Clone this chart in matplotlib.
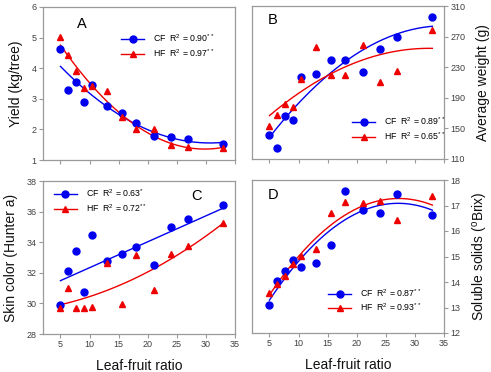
import numpy as np
import matplotlib
matplotlib.use("Agg")
import matplotlib.pyplot as plt
from matplotlib.legend_handler import HandlerLine2D

plt.rcParams['font.family'] = ['Liberation Sans', 'DejaVu Sans']
plt.rcParams['mathtext.fontset'] = 'custom'
plt.rcParams['mathtext.rm'] = 'Liberation Sans'
plt.rcParams['mathtext.it'] = 'Liberation Sans:italic'

# ---- data ----
leaf_fruit = [5, 6.3, 7.7, 9, 10.4, 13, 15.5, 18, 21, 24, 27, 33]

yield_cf = [4.62, 3.29, 3.55, 2.88, 3.45, 2.77, 2.53, 2.20, 1.79, 1.76, 1.70, 1.52]
yield_hf = [5.02, 4.43, 3.90, 3.34, 3.42, 3.27, 2.40, 2.00, 2.00, 1.48, 1.42, 1.38]

weight_cf = [141, 125, 166, 161, 217, 221, 240, 239, 224, 254, 270, 295]
weight_hf = [153, 168, 182, 178, 215, 257, 220, 220, 259, 211, 225, 279]

color_cf = [29.91, 32.15, 33.43, 30.76, 34.50, 32.76, 33.20, 33.67, 32.48, 35.02, 35.50, 36.46]
color_hf = [29.70, 31.02, 29.72, 29.70, 29.76, 32.63, 29.98, 33.17, 30.85, 33.24, 33.72, 35.24]

brix_cf = [13.09, 14.03, 14.44, 14.88, 14.57, 14.73, 15.44, 17.56, 16.82, 16.69, 17.47, 16.63]
brix_hf = [13.58, 13.94, 14.23, 14.70, 15.01, 15.30, 16.69, 17.13, 17.10, 17.16, 16.45, 17.37]

labels_a = ['CF  R$^2$ = 0.90$^{**}$', 'HF  R$^2$ = 0.97$^{**}$']
labels_b = ['CF  R$^2$ = 0.89$^{**}$', 'HF  R$^2$ = 0.65$^{**}$']
labels_c = ['CF  R$^2$ = 0.63$^{*}$', 'HF  R$^2$ = 0.72$^{**}$']
labels_d = ['CF  R$^2$ = 0.87$^{**}$', 'HF  R$^2$ = 0.93$^{**}$']

BLUE = '#0000ee'
RED = '#ee0000'
SPINE = '#9a9a9a'
TICKC = '#404040'


class RightMarker(HandlerLine2D):
    def get_xdata(self, legend, xdescent, ydescent, width, height, fontsize):
        xdata, _ = super().get_xdata(legend, xdescent, ydescent, width, height, fontsize)
        return xdata, np.array([width - xdescent])


fig = plt.figure(figsize=(4.91, 3.72), dpi=100)
W, H = 491, 372


def make_ax(l, t, r, b):
    return fig.add_axes([l / W, 1 - b / H, (r - l) / W, (b - t) / H])


axA = make_ax(43, 7, 235, 160)
axB = make_ax(252, 6, 444, 159)
axC = make_ax(43, 181, 235, 334)
axD = make_ax(252, 180, 444, 333)

x = np.array(leaf_fruit, dtype=float)
xs = np.linspace(5, 33, 200)


def panel(ax, ycf, yhf, labels, ylim, yticks, letter, letter_pos, legend_anchor,
          right=False, xlabels=False, deg_cf=2, deg_hf=2):
    pcf = np.polyfit(x, ycf, deg_cf)
    phf = np.polyfit(x, yhf, deg_hf)
    ax.plot(xs, np.polyval(pcf, xs), color=BLUE, lw=1.0)
    ax.plot(xs, np.polyval(phf, xs), color=RED, lw=1.0)
    ax.plot(x, ycf, 'o', color=BLUE, ms=5, mec=BLUE, ls='none')
    ax.plot(x, yhf, '^', color=RED, ms=5, mec=RED, ls='none')
    hcf, = ax.plot([], [], color=BLUE, lw=1.0, marker='o', ms=5)
    hhf, = ax.plot([], [], color=RED, lw=1.0, marker='^', ms=5)
    ax.set_xlim(2, 35)
    ax.set_ylim(*ylim)
    ax.set_xticks([5, 10, 15, 20, 25, 30, 35])
    ax.set_yticks(yticks)
    for s in ax.spines.values():
        s.set_color(SPINE)
        s.set_linewidth(0.9)
    ax.tick_params(direction='out', length=3, width=0.8, color=SPINE,
                   labelsize=6.5, labelcolor=TICKC, pad=1.5)
    if not xlabels:
        ax.tick_params(axis='x', labelbottom=False)
    if right:
        ax.yaxis.tick_right()
        ax.yaxis.set_label_position('right')
    ax.text(letter_pos[0], letter_pos[1], letter, transform=ax.transAxes,
            fontsize=10.5, ha='left', va='center')
    ax.legend([hcf, hhf], labels, loc='upper left', bbox_to_anchor=legend_anchor,
              frameon=False, fontsize=6.3, numpoints=1, handlelength=2.6,
              handletextpad=1.0, labelspacing=0.35, borderaxespad=0.2,
              handler_map={hcf: RightMarker(), hhf: RightMarker()})
    return ax


panel(axA, yield_cf, yield_hf, labels_a, (1, 6), [1, 2, 3, 4, 5, 6], 'A', (0.175, 0.89),
      (0.38, 0.87))
panel(axB, weight_cf, weight_hf, labels_b, (110, 310), [110, 150, 190, 230, 270, 310], 'B',
      (0.08, 0.91), (0.495, 0.32), right=True)
panel(axC, color_cf, color_hf, labels_c, (28, 38), [28, 30, 32, 34, 36, 38], 'C',
      (0.77, 0.90), (0.03, 0.99), xlabels=True, deg_cf=1)
panel(axD, brix_cf, brix_hf, labels_d, (12, 18), [12, 13, 14, 15, 16, 17, 18], 'D',
      (0.083, 0.90), (0.37, 0.335), right=True, xlabels=True)

lab_kw = dict(fontsize=10, color='#111111')
axA.set_ylabel('Yield (kg/tree)', labelpad=6, **lab_kw)
axC.set_ylabel('Skin color (Hunter a)', labelpad=6, **lab_kw)
axB.set_ylabel('Average weight (g)', labelpad=8, **lab_kw)
axD.set_ylabel(r'Soluble solids ($^{\mathrm{o}}$Brix)', labelpad=8, **lab_kw)
for ax in (axC, axD):
    ax.set_xlabel('Leaf-fruit ratio', **lab_kw)
    ax.xaxis.set_label_coords(0.5, -0.21)
    ax.xaxis.label.set_va('center')

fig.savefig('out.png', dpi=100)
